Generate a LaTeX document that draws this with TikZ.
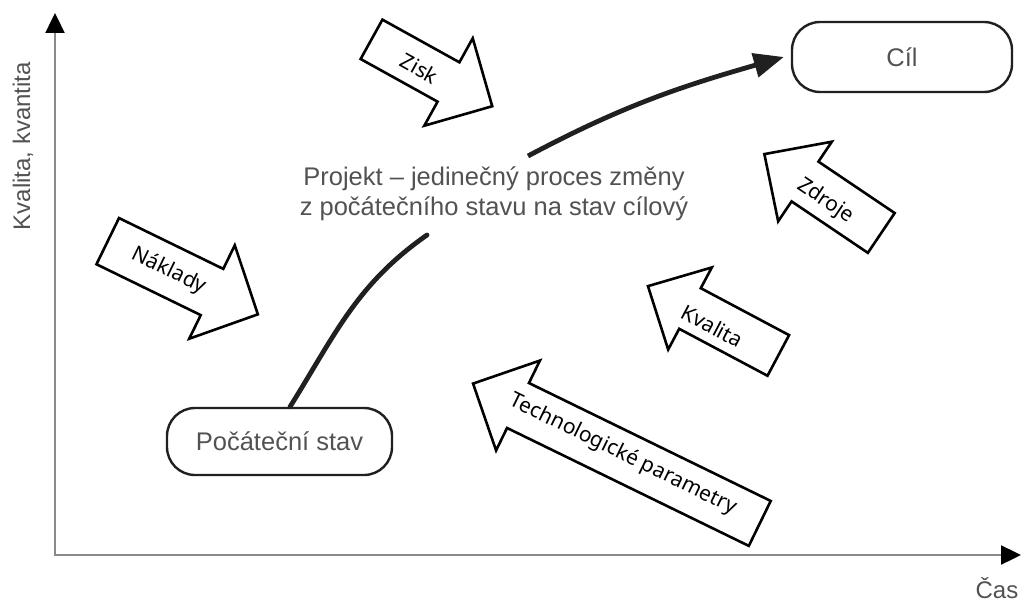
\documentclass[tikz,border=0pt]{standalone}
\usepackage{fontspec}
\setmainfont{Liberation Sans}
\newfontfamily\labelfont{Noto Sans}
\usetikzlibrary{arrows.meta}
\definecolor{inkgray}{RGB}{82,82,82}
\definecolor{axisgray}{RGB}{138,138,138}
\definecolor{linedark}{RGB}{32,32,32}

% outline of a block arrow: head base centred at the origin, pointing along +x
% #1 shaft length, #2 head length, #3 shaft half width, #4 head half width
\newcommand\blockshape[4]{%
  \draw[blockarrow] (-#1,#3) -- (0,#3) -- (0,#4) -- (#2,0) -- (0,-#4) -- (0,-#3) -- (-#1,-#3) -- cycle;}

\begin{document}
\begin{tikzpicture}[x=1pt,y=1pt,
  axisline/.style={draw=axisgray, line width=2.4pt},
  axislabel/.style={text=inkgray, inner sep=0pt, font=\fontsize{24}{28}\selectfont},
  state/.style={draw=linedark, line width=2.4pt, rounded corners=28pt, inner sep=0pt,
                text=inkgray, font=\fontsize{25.5}{30}\selectfont},
  blockarrow/.style={draw=black, line width=2.6pt, line join=miter, fill=white},
  arrowlabel/.style={font=\labelfont\fontsize{21}{25}\selectfont, inner sep=0pt, transform shape},
  flow/.style={draw=linedark, line width=4.8pt},
]
\useasboundingbox (0,0) rectangle (1021,-602);

% axes
\coordinate (ytip) at (55,-13);
\coordinate (origin) at (55,-555);
\coordinate (xtip) at (1021,-555);
\draw[axisline, {Triangle[length=20pt,width=19pt,black]}-{Triangle[length=20pt,width=19pt,black]}]
  (ytip) -- (origin) -- (xtip);
\node[axislabel, rotate=90] (ylab) at (23,-146) {Kvalita, kvantita};
\node[axislabel, anchor=base] (xlab) at (997,-598) {Čas};

% start and goal states
\node[state, minimum width=220pt, minimum height=70pt] (goal) at (902,-57) {Cíl};
\node[state, minimum width=225pt, minimum height=67pt] (start) at (279.5,-441.5) {Počáteční stav};

% project description
\node[text=inkgray, align=center, inner sep=0pt, font=\fontsize{25.5}{30}\selectfont] (proj) at (494,-194)
  {Projekt – jedinečný proces změny\\z počátečního stavu na stav cílový};

% path of the project from start to goal
\coordinate (c1) at (427,-235);
\coordinate (c2) at (528,-156);
\draw[flow, line cap=round] ([xshift=10.5pt]start.north) to[out=58,in=215] (c1);
\draw[flow, -{Triangle[length=30pt,width=24pt]}] (c2) to[out=28,in=196] ([xshift=-7pt]goal.west);

% influences
\begin{scope}[shift={(448.5,-82)}, rotate=-29]
  \blockshape{88}{50}{22.5}{50}
  \node[arrowlabel] (zisk) at (-32,-2) {Zisk};
\end{scope}
\begin{scope}[shift={(212,-292)}, rotate=-26]
  \blockshape{116}{51}{25.7}{52}
  \node[arrowlabel] (naklady) at (-48,0) {Náklady};
\end{scope}
\begin{scope}[shift={(805,-181.5)}, rotate=146]
  \blockshape{92}{49}{24}{48}
  \node[arrowlabel, rotate=180] (zdroje) at (-28,5) {Zdroje};
\end{scope}
\begin{scope}[shift={(690,-308.5)}, rotate=152]
  \blockshape{100}{47.6}{23}{46.5}
  \node[arrowlabel, rotate=180] (kvalita) at (-28,5) {Kvalita};
\end{scope}
\begin{scope}[shift={(518,-405.5)}, rotate=154]
  \blockshape{269}{50}{25}{50}
  \node[arrowlabel, rotate=180] (tech) at (-116,-2) {Technologické parametry};
\end{scope}
\end{tikzpicture}
\end{document}
